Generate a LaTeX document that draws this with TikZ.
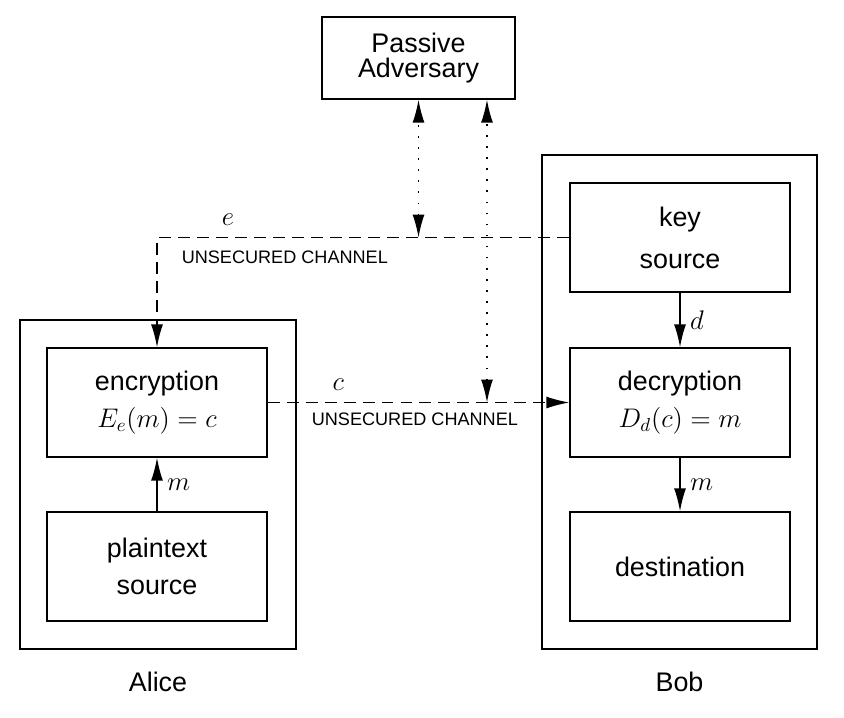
\RequirePackage{fix-cm}
\documentclass[tikz,border=0pt]{standalone}
\usepackage{amsmath}
\usepackage{fontspec}
\setmainfont{Liberation Sans}
\usetikzlibrary{positioning, arrows.meta}

\begin{document}
\begin{tikzpicture}[x=0.02cm, y=-0.02cm, >={Latex[length=4.6mm,width=2.4mm]},
    box/.style={draw, line width=0.8pt, minimum width=4.4cm, minimum height=2.18cm, align=center, font=\fontsize{15.3}{21}\selectfont},
    party/.style={draw, line width=0.8pt},
    chan/.style={line width=0.8pt, dash pattern=on 6.8pt off 4pt},
    tap/.style={line width=0.8pt, dash pattern=on 0.9pt off 5.4pt},
    lbl/.style={font=\fontsize{15.3}{18}\selectfont},
    small/.style={font=\fontsize{10.3}{12}\selectfont}]
        \useasboundingbox (0,0) rectangle (844,717);

        % Nodes
        \node (adv) [box, minimum width=3.86cm, minimum height=1.64cm, font=\fontsize{15.3}{14.7}\selectfont] at (418.5,58) {Passive\\Adversary};
        \node (bob) [party, minimum width=5.5cm, minimum height=9.88cm] at (679.5,402) {};
        \node (alice) [party, minimum width=5.52cm, minimum height=6.58cm] at (158,484.5) {};

        \node (key) [box] at (680,237.5) {key\\[3pt]source};
        \node (dec) [box] at (680,402.5) {decryption\\$D_d(c)=m$};
        \node (dest) [box] at (680,566.5) {destination};
        \node (enc) [box] at (157,402.5) {encryption\\$E_e(m)=c$};
        \node (plain) [box] at (157,566.5) {plaintext\\source};

        \node (alicelbl) [lbl, below=0.33cm of alice] {Alice};
        \node (boblbl) [lbl, below=0.33cm of bob] {Bob};

        \coordinate (etap) at (key.west -| adv.south);
        \coordinate (ctap) at ([xshift=1.37cm]adv.south |- dec.west);

        % Arrows
        \draw[chan, ->] (key.west) -| node[lbl, pos=0.414, above=3pt] {$e$} node[small, pos=0.345, below=4pt] {UNSECURED CHANNEL} (enc.north);
        \draw[chan, ->] (enc.east) -- node[lbl, pos=0.234, above=3pt] {$c$} node[small, pos=0.488, below=2pt] {UNSECURED CHANNEL} (dec.west);
        \draw[tap, <->] (etap) -- (adv.south);
        \draw[tap, <->] (ctap) -- (ctap |- adv.south);
        \draw[->, line width=0.8pt] (key.south) -- node[lbl, right=2pt] {$d$} (dec.north);
        \draw[->, line width=0.8pt] (dec.south) -- node[lbl, right=2pt] {$m$} (dest.north);
        \draw[->, line width=0.8pt] (plain.north) -- node[lbl, right=2pt] {$m$} (enc.south);

    \end{tikzpicture}
\end{document}
